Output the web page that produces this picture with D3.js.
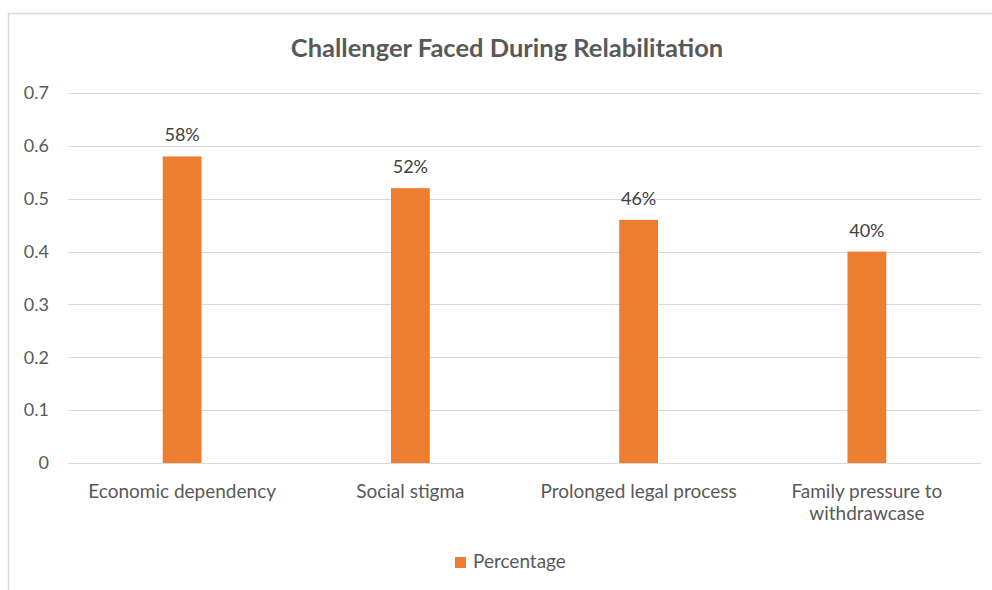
<!DOCTYPE html>
<html>
<head>
<meta charset="utf-8">
<script src="https://cdn.jsdelivr.net/npm/d3@7"></script>
<style>
  body { margin: 0; background: #fff; }
  svg { display: block; font-family: Lato, 'Open Sans', sans-serif; }
</style>
</head>
<body>
<div id="chart"></div>
<script>
const categories = [
  ['Economic dependency'],
  ['Social stigma'],
  ['Prolonged legal process'],
  ['Family pressure to', 'withdrawcase']
];
const values = [0.58, 0.52, 0.46, 0.40];
const valueLabels = ['58%', '52%', '46%', '40%'];
const yTicks = [0, 0.1, 0.2, 0.3, 0.4, 0.5, 0.6, 0.7];
const seriesName = 'Percentage';
const title = 'Challenger Faced During Relabilitation';

const W = 992, H = 590;
const margin = { top: 93, right: 11, bottom: 127, left: 68 };
const width = W - margin.left - margin.right;
const height = H - margin.top - margin.bottom;

const svg = d3.select('#chart').append('svg')
  .attr('width', W)
  .attr('height', H);

// chart area border (only top + left fall inside the picture)
svg.append('rect')
  .attr('x', 8.5).attr('y', 13.5)
  .attr('width', W + 10).attr('height', H + 10)
  .attr('fill', 'none')
  .attr('stroke', '#d9d9d9')
  .attr('stroke-width', 1.5);

svg.append('text')
  .attr('x', 507)
  .attr('y', 57)
  .attr('text-anchor', 'middle')
  .style('font-size', '25.5px')
  .style('font-weight', 'bold')
  .style('fill', '#595959')
  .text(title);

const g = svg.append('g')
  .attr('transform', `translate(${margin.left},${margin.top})`);

const x = d3.scaleBand()
  .domain(d3.range(categories.length))
  .range([0, width])
  .paddingInner(0.83)
  .paddingOuter(0.415);

const y = d3.scaleLinear()
  .domain([0, 0.7])
  .range([height, 0]);

// gridlines
g.selectAll('.grid')
  .data(yTicks)
  .enter().append('line')
  .attr('x1', 0).attr('x2', width)
  .attr('y1', d => Math.round(y(d)) + 0.5)
  .attr('y2', d => Math.round(y(d)) + 0.5)
  .attr('stroke', '#d9d9d9')
  .attr('stroke-width', 1);

// y axis labels
const yAxis = d3.axisLeft(y).tickValues(yTicks).tickSize(0).tickPadding(19)
  .tickFormat(d => d === 0 ? '0' : d3.format('.1f')(d));
const ya = g.append('g').call(yAxis);
ya.select('.domain').remove();
ya.selectAll('text')
  .style('font-family', 'Lato, sans-serif')
  .style('font-size', '18px')
  .style('fill', '#595959');

// bars
g.selectAll('.bar')
  .data(values)
  .enter().append('rect')
  .attr('class', 'bar')
  .attr('x', (d, i) => x(i))
  .attr('y', d => y(d))
  .attr('width', x.bandwidth())
  .attr('height', d => y(0) - y(d))
  .attr('fill', '#ED7D31');

// data labels
g.selectAll('.vlabel')
  .data(values)
  .enter().append('text')
  .attr('x', (d, i) => x(i) + x.bandwidth() / 2)
  .attr('y', d => y(d) - 15)
  .attr('text-anchor', 'middle')
  .style('font-size', '18px')
  .style('fill', '#404040')
  .text((d, i) => valueLabels[i]);

// category labels
const cat = g.selectAll('.cat')
  .data(categories)
  .enter().append('text')
  .attr('x', (d, i) => x(i) + x.bandwidth() / 2)
  .attr('y', height + 35)
  .attr('text-anchor', 'middle')
  .style('font-size', '19px')
  .style('fill', '#595959');
cat.selectAll('tspan')
  .data(d => d)
  .enter().append('tspan')
  .attr('x', function () { return this.parentNode.getAttribute('x'); })
  .attr('dy', (d, i) => i === 0 ? 0 : 22)
  .text(d => d);

// legend
const legend = svg.append('g').attr('transform', 'translate(455,557)');
legend.append('rect')
  .attr('width', 11).attr('height', 11)
  .attr('fill', '#ED7D31');
legend.append('text')
  .attr('x', 18).attr('y', 10.5)
  .style('font-size', '19px')
  .style('fill', '#595959')
  .text(seriesName);
</script>
</body>
</html>
